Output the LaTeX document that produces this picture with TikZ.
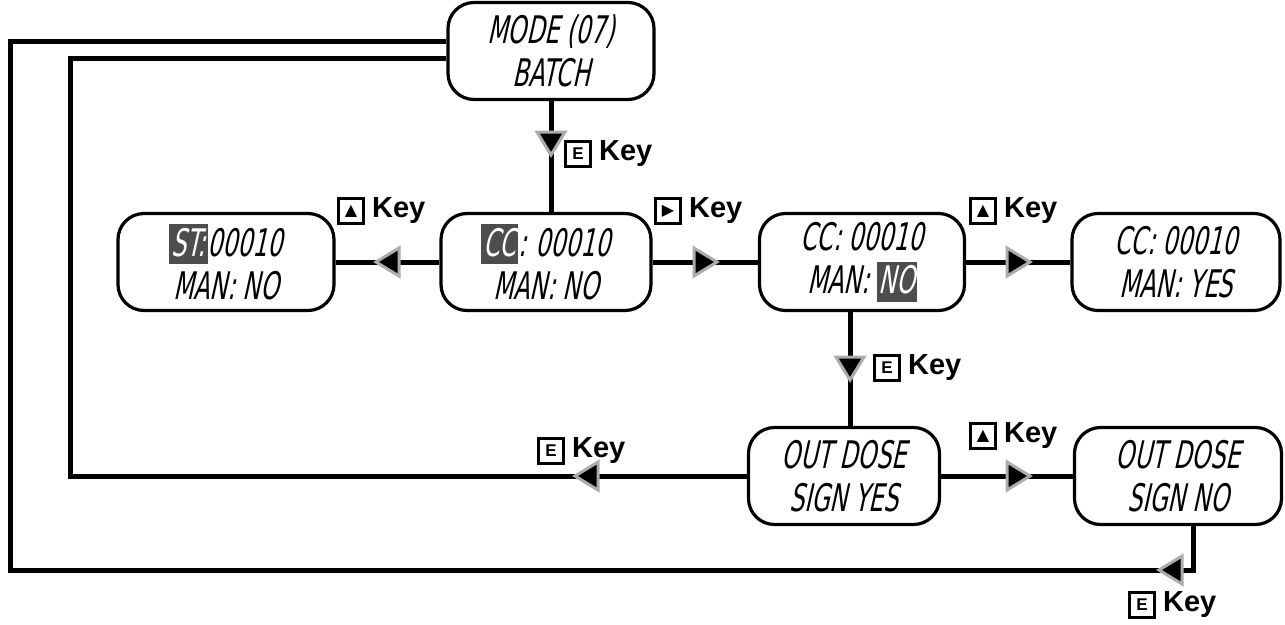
\documentclass[tikz,border=0pt]{standalone}
\usepackage{fontspec}
\newfontfamily\lcd[FakeStretch=0.62,FakeSlant=0.22]{DejaVu Sans}
\newfontfamily\keyfont{Liberation Sans}
\newfontfamily\symfont{DejaVu Sans}
\definecolor{hlgray}{HTML}{4D4D4D}
\newcommand{\hl}[1]{{\setlength{\fboxsep}{2pt}\colorbox{hlgray}{\rule[-6pt]{0pt}{36pt}\textcolor{white}{#1}}}}
\tikzset{
  lcdbox/.style={draw, line width=3.2pt, rounded corners=26pt, minimum width=206pt, minimum height=97pt,
     align=center, font=\lcd\fontsize{38}{43}\selectfont, inner sep=0pt},
  conn/.style={line width=5pt},
  keyicon/.style={draw, line width=2.8pt, minimum size=25pt, inner sep=0pt, font=\keyfont\bfseries\fontsize{17}{17}\selectfont},
  keytxt/.style={anchor=west, inner sep=0pt, font=\keyfont\bfseries\fontsize{29}{29}\selectfont},
  tri/.pic={\filldraw[fill=black, draw=gray!65, line width=3pt, line join=miter] (-11,-14) -- (12,0) -- (-11,14) -- cycle;}
}
\begin{document}
\begin{tikzpicture}[x=1pt,y=-1pt]
\path[use as bounding box, fill=white] (0,0) rectangle (1285,624);

% boxes
\node[lcdbox] (mode) at (551,51) {MODE (07)\\BATCH};
\node[lcdbox, minimum width=216pt] (st) at (226,262) {\hl{ST:}00010\\MAN: NO};
\node[lcdbox, minimum width=210pt] (cc1) at (546,262) {\hl{CC}: 00010\\MAN: NO};
\node[lcdbox, minimum width=205pt] (cc2) at (862,262) {CC: 00010\\MAN: \hl{NO}};
\node[lcdbox, minimum width=208pt] (cc3) at (1176,262) {CC: 00010\\MAN: YES};
\node[lcdbox, minimum width=191pt] (oyes) at (844,476) {OUT DOSE\\SIGN YES};
\node[lcdbox, minimum width=207pt] (ono) at (1178,476) {OUT DOSE\\SIGN NO};

% connectors
\draw[conn] (mode.south -| 551,0) -- (cc1.north -| 551,0);
\draw[conn] (st.east) -- (cc1.west);
\draw[conn] (cc1.east) -- (cc2.west);
\draw[conn] (cc2.east) -- (cc3.west);
\draw[conn] (cc2.south -| 850,0) -- (oyes.north -| 850,0);
\draw[conn] (oyes.east) -- (ono.west);
\draw[conn] ([yshift=10pt]mode.west) -- (10,41) -- (10,570) -- (1193,570) -- (ono.south -| 1193,0);
\draw[conn] ([yshift=-7pt]mode.west) -- (70,58) -- (70,476) -- (oyes.west);

% arrowheads
\pic[rotate=-90] at (551,143) {tri};
\pic[rotate=180] at (388,262) {tri};
\pic at (705,262) {tri};
\pic at (1018,262) {tri};
\pic[rotate=-90] at (850,368) {tri};
\pic at (1018,476) {tri};
\pic[rotate=180] at (587,476) {tri};
\pic[rotate=180] at (1171,570) {tri};

% key labels
\node[keyicon] (i1) at (578,154) {E};
\node[keytxt] (t1) at ([xshift=7pt]i1.east) {Key};
\node[keyicon] (i2) at (351,211) {\symfont\fontsize{16}{16}\selectfont ▲};
\node[keytxt] (t2) at ([xshift=7pt]i2.east) {Key};
\node[keyicon] (i3) at (668,211) {\symfont\fontsize{16}{16}\selectfont ▶};
\node[keytxt] (t3) at ([xshift=7pt]i3.east) {Key};
\node[keyicon] (i4) at (983,211) {\symfont\fontsize{16}{16}\selectfont ▲};
\node[keytxt] (t4) at ([xshift=7pt]i4.east) {Key};
\node[keyicon] (i5) at (887,368) {E};
\node[keytxt] (t5) at ([xshift=7pt]i5.east) {Key};
\node[keyicon] (i6) at (983,436) {\symfont\fontsize{16}{16}\selectfont ▲};
\node[keytxt] (t6) at ([xshift=7pt]i6.east) {Key};
\node[keyicon] (i7) at (551,451) {E};
\node[keytxt] (t7) at ([xshift=7pt]i7.east) {Key};
\node[keyicon] (i8) at (1142,605) {E};
\node[keytxt] (t8) at ([xshift=7pt]i8.east) {Key};
\end{tikzpicture}
\end{document}
